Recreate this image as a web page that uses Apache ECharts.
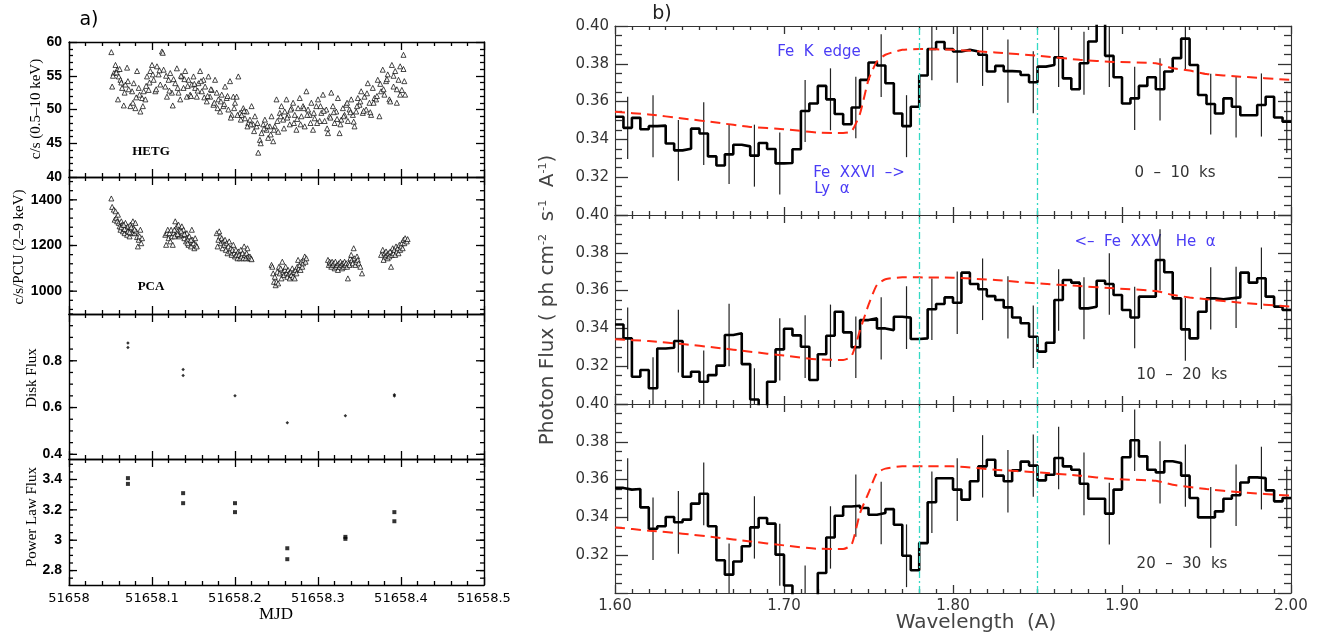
<!DOCTYPE html>
<html><head><meta charset="utf-8">
<script src="https://cdn.jsdelivr.net/npm/echarts@6/dist/echarts.min.js"></script>
<style>html,body{margin:0;padding:0;background:#fff}#c{width:1329px;height:635px}</style>
</head><body><div id="c"></div>
<script>
// ---------- data : panel a) (time in days after MJD0) ----------
const MJD0 = 51658;
const hetg = [[.051,58.5],[.052,53.4],[.054,55.4],[.056,56.6],[.058,55.9],[.059,51.5],[.060,54.9],[.062,54.4],[.064,53.2],[.066,50.6],[.068,53.7],[.070,56.2],[.071,54.2],[.074,50.5],[.076,52.7],[.078,53.9],[.080,50.2],[.082,55.7],[.084,53.2],[.086,49.7],[.088,51.7],[.090,52.7],[.092,51.5],[.094,54.9],[.096,52.9],[.098,55.7],[.100,56.6],[.102,54.4],[.104,52.7],[.106,56.4],[.108,55.2],[.110,53.7],[.112,58.6],[.114,55.9],[.116,53.4],[.118,51.9],[.120,54.4],[.122,55.4],[.124,52.5],[.125,50.6],[.128,53.9],[.130,56.1],[.132,52.5],[.134,51.5],[.136,54.9],[.138,53.2],[.140,55.7],[.142,51.9],[.144,54.4],[.146,52.2],[.148,53.7],[.150,54.9],[.152,53.2],[.154,51.9],[.156,53.9],[.158,55.7],[.160,52.7],[.162,54.4],[.164,53.4],[.166,51.2],[.168,54.9],[.170,51.9],[.172,52.9],[.174,50.7],[.176,54.4],[.178,52.5],[.180,51.5],[.182,49.7],[.184,52.2],[.186,50.5],[.188,53.4],[.190,51.7],[.192,50.0],[.194,54.2],[.196,49.2],[.198,51.9],[.200,51.0],[.202,51.9],[.204,54.9],[.206,49.5],[.208,49.2],[.210,50.2],[.212,48.7],[.214,49.7],[.216,48.0],[.218,48.5],[.220,50.5],[.222,47.8],[.224,49.0],[.226,47.5],[.228,43.6],[.230,45.5],[.232,46.5],[.234,47.8],[.236,48.5],[.238,47.0],[.240,45.8],[.242,47.5],[.244,49.0],[.246,45.3],[.248,47.5],[.250,51.5],[.252,46.7],[.254,49.5],[.256,50.5],[.258,48.5],[.260,49.7],[.262,51.5],[.264,49.2],[.266,47.8],[.268,50.2],[.270,51.0],[.272,49.2],[.274,47.0],[.276,50.2],[.278,51.7],[.280,49.0],[.282,50.5],[.284,47.5],[.286,52.7],[.288,50.0],[.290,49.2],[.292,51.0],[.294,47.0],[.296,48.7],[.298,50.5],[.300,51.5],[.302,48.3],[.304,49.5],[.306,52.2],[.308,48.3],[.310,50.0],[.312,46.5],[.314,49.0],[.316,52.5],[.318,50.5],[.320,48.0],[.322,49.7],[.324,51.7],[.326,46.5],[.328,48.5],[.330,50.2],[.332,49.2],[.334,50.7],[.336,48.3],[.338,50.0],[.340,51.5],[.342,49.2],[.344,47.5],[.346,49.7],[.348,51.7],[.350,50.7],[.352,52.7],[.354,49.5],[.356,51.9],[.358,50.0],[.360,53.9],[.362,51.0],[.364,49.2],[.366,53.2],[.368,51.7],[.370,51.5],[.372,54.4],[.374,49.0],[.376,52.7],[.378,55.9],[.380,52.2],[.382,54.2],[.384,55.2],[.386,51.5],[.389,56.6],[.391,53.4],[.393,55.7],[.395,51.0],[.397,54.4],[.399,56.4],[.401,52.9],[.403,58.1],[.404,54.2],[.405,52.2],
[.053,55.0],[.057,55.5],[.061,56.0],[.063,54.0],[.067,52.5],[.072,53.0],[.077,51.0],[.081,51.8],[.085,52.2],[.089,50.5],[.093,53.5],[.097,54.0],[.101,55.2],[.105,53.0],[.109,55.8],[.113,58.4],[.117,55.0],[.121,52.8],[.126,54.5],[.131,53.2],[.135,55.0],[.139,54.5],[.143,53.5],[.147,52.0],[.151,53.8],[.155,52.8],[.159,54.2],[.163,51.8],[.167,52.0],[.171,53.0],[.175,51.0],[.179,50.2],[.183,51.2],[.187,50.8],[.191,52.0],[.195,48.8],[.199,50.2],[.203,49.2],[.207,48.5],[.211,49.8],[.215,47.5],[.219,47.8],[.223,46.8],[.227,48.0],[.231,45.0],[.235,47.2],[.239,47.6],[.243,46.3],[.247,47.0],[.251,48.3],[.255,49.0],[.259,47.2],[.263,48.8],[.267,50.0],[.271,48.0],[.275,48.6],[.279,47.8],[.283,50.2],[.287,49.2],[.291,48.0],[.295,49.5],[.299,48.0],[.303,50.5],[.307,49.8],[.311,47.2],[.315,48.8],[.319,49.6],[.323,48.6],[.327,47.8],[.331,49.0],[.335,51.0],[.339,49.6],[.343,48.2],[.347,50.5],[.351,51.2],[.355,49.8],[.359,52.4],[.363,49.6],[.367,51.0],[.371,52.0],[.375,53.8],[.379,53.0],[.383,54.5],[.387,51.2],[.391,55.0],[.395,53.0],[.399,52.2],[.403,56.0]];

const pca = [[.051,1406],[.052,1369],[.054,1357],[.055,1313],[.056,1350],[.057,1321],[.058,1306],[.059,1335],[.060,1299],[.061,1284],[.062,1269],[.063,1306],[.064,1291],[.065,1262],[.066,1276],[.067,1254],[.068,1299],[.069,1269],[.070,1247],[.071,1284],[.072,1262],[.073,1240],[.074,1291],[.075,1269],[.076,1254],[.077,1306],[.078,1276],[.079,1254],[.080,1299],[.081,1262],[.082,1237],[.083,1196],[.084,1225],[.085,1240],[.086,1269],[.087,1210],[.088,1232],[.063,1280],[.067,1272],[.071,1262],[.075,1280],[.079,1270],[.066,1290],[.073,1258],
[.116,1247],[.117,1203],[.118,1254],[.119,1269],[.120,1232],[.121,1254],[.122,1218],[.123,1269],[.124,1240],[.125,1203],[.126,1254],[.127,1269],[.128,1306],[.129,1247],[.130,1284],[.131,1262],[.132,1291],[.133,1240],[.134,1269],[.135,1247],[.136,1284],[.137,1254],[.138,1269],[.139,1232],[.140,1247],[.141,1218],[.142,1254],[.143,1225],[.144,1203],[.145,1240],[.146,1218],[.147,1196],[.148,1269],[.149,1225],[.150,1210],[.151,1188],[.152,1232],[.153,1203],[.154,1196],[.127,1240],[.131,1250],[.135,1262],[.139,1250],[.143,1210],[.147,1225],
[.178,1254],[.179,1196],[.180,1225],[.181,1262],[.182,1240],[.183,1210],[.184,1232],[.185,1188],[.186,1218],[.187,1203],[.188,1225],[.189,1181],[.190,1210],[.191,1166],[.192,1196],[.193,1218],[.194,1174],[.195,1188],[.196,1159],[.197,1181],[.198,1203],[.199,1166],[.200,1152],[.201,1181],[.202,1159],[.203,1144],[.204,1174],[.205,1159],[.206,1144],[.207,1181],[.208,1152],[.209,1166],[.210,1144],[.211,1196],[.212,1159],[.213,1144],[.214,1166],[.215,1188],[.216,1152],[.217,1144],[.218,1152],[.219,1144],[.220,1140],
[.244,1115],[.245,1107],[.246,1078],[.247,1041],[.248,1063],[.249,1026],[.250,1041],[.251,1085],[.252,1034],[.253,1107],[.254,1078],[.255,1100],[.256,1056],[.257,1129],[.258,1085],[.259,1071],[.260,1093],[.261,1107],[.262,1078],[.263,1063],[.264,1093],[.265,1078],[.266,1056],[.267,1085],[.268,1071],[.269,1100],[.270,1063],[.271,1085],[.272,1056],[.273,1093],[.274,1078],[.275,1107],[.276,1137],[.277,1100],[.278,1115],[.279,1093],[.280,1129],[.281,1107],[.282,1122],[.283,1137],[.284,1152],[.285,1129],[.286,1144],
[.312,1137],[.313,1115],[.314,1129],[.315,1122],[.316,1107],[.317,1129],[.318,1115],[.319,1122],[.320,1100],[.321,1129],[.322,1107],[.323,1115],[.324,1093],[.325,1122],[.326,1107],[.327,1129],[.328,1115],[.329,1100],[.330,1122],[.331,1107],[.332,1129],[.333,1115],[.334,1122],[.335,1107],[.336,1056],[.337,1122],[.338,1115],[.339,1144],[.340,1159],[.341,1137],[.342,1122],[.343,1188],[.344,1144],[.345,1115],[.346,1129],[.347,1152],[.348,1137],[.349,1122],[.351,1107],[.353,1078],
[.376,1159],[.378,1181],[.379,1137],[.380,1166],[.381,1152],[.382,1174],[.383,1159],[.384,1144],[.385,1166],[.386,1152],[.387,1174],[.388,1107],[.389,1159],[.390,1188],[.391,1166],[.392,1181],[.393,1159],[.394,1196],[.395,1174],[.396,1188],[.397,1166],[.398,1203],[.399,1181],[.400,1196],[.401,1210],[.402,1188],[.403,1225],[.404,1210],[.405,1232],[.407,1218],[.408,1228]];

const diskFlux = [[.071,0.876],[.071,0.857],[.1375,0.763],[.1375,0.737],[.200,0.650],[.263,0.535],[.333,0.565],[.392,0.655],[.392,0.649]];
const powerFlux = [[.071,3.409],[.071,3.371],[.1375,3.310],[.1375,3.244],[.200,3.244],[.200,3.185],[.263,2.947],[.263,2.875],[.333,3.022],[.333,3.009],[.392,3.185],[.392,3.125]];

// ---------- data : panel b) spectra, 80 bins of 0.005 A from 1.60 A ----------
const binStart = 1.60, binWidth = 0.005;
const spec0 = [0.352,0.3461,0.3514,0.3454,0.347,0.3473,0.3378,0.3342,0.3351,0.3457,
 0.3431,0.331,0.3262,0.3321,0.3372,0.3363,0.3314,0.3381,0.3349,0.3273,
 0.3275,0.3348,0.355,0.359,0.3683,0.3612,0.3534,0.348,0.3569,0.3715,
 0.3807,0.3791,0.3697,0.3537,0.347,0.3573,0.3738,0.3878,0.3915,0.3878,
 0.3865,0.3874,0.3865,0.3848,0.3759,0.3789,0.3761,0.3759,0.3741,0.3702,
 0.3785,0.3794,0.3835,0.3723,0.3665,0.3803,0.3918,0.41,0.3842,0.3729,
 0.359,0.3617,0.3683,0.3729,0.3665,0.3759,0.383,0.3933,0.3794,0.3635,
 0.3587,0.3537,0.3617,0.3573,0.3528,0.3528,0.3582,0.3626,0.3516,0.3493];
const spec1 = [0.3421,0.3347,0.3144,0.318,0.3083,0.3294,0.3298,0.3333,0.3144,0.3171,
 0.3118,0.3153,0.3203,0.3365,0.3374,0.3211,0.3024,0.296,0.3118,0.3289,
 0.3398,0.3363,0.3303,0.3127,0.3263,0.3361,0.3488,0.3379,0.33,0.3444,
 0.3453,0.34,0.3391,0.3462,0.3457,0.3344,0.3347,0.3501,0.3529,0.3564,
 0.3536,0.3695,0.3635,0.3607,0.3571,0.355,0.3511,0.3458,0.3427,0.3356,
 0.3277,0.3324,0.355,0.3656,0.3642,0.3506,0.3515,0.3652,0.3635,0.3577,
 0.3497,0.3458,0.3568,0.3568,0.3762,0.3697,0.3559,0.3395,0.3347,0.3488,
 0.3559,0.3554,0.3559,0.3564,0.3695,0.3642,0.3665,0.3568,0.3515,0.3497];
const spec2 = [0.3556,0.3547,0.355,0.3453,0.334,0.3353,0.3402,0.3374,0.3388,0.3473,
 0.3525,0.3353,0.3173,0.3097,0.3167,0.3247,0.3347,0.3397,0.3367,0.3203,
 0.304,0.297,0.298,0.296,0.3106,0.3294,0.3409,0.3458,0.3462,0.345,
 0.3414,0.3423,0.3444,0.3361,0.3197,0.312,0.3264,0.348,0.3607,0.3607,
 0.3547,0.3494,0.3591,0.367,0.3705,0.3621,0.3591,0.3649,0.3695,0.3674,
 0.3596,0.3626,0.3714,0.367,0.3652,0.3578,0.3499,0.3499,0.342,0.3547,
 0.3718,0.3808,0.3723,0.3652,0.3638,0.3697,0.3688,0.3621,0.3503,0.34,
 0.34,0.3432,0.3499,0.3517,0.3585,0.3612,0.3608,0.3543,0.3485,0.3503];
// error bars drawn on every third bin (bins 1,4,7,...,79): half-lengths
const errBins = [1,4,7,10,13,16,19,22,25,28,31,34,37,40,43,46,49,52,55,58,61,64,67,70,73,76,79];
const err0 = [.0165,.0164,.0161,.0166,.0157,.0164,.0164,.0164,.0164,.0163,.0166,.0164,.0165,.0165,.0165,.0167,.0164,.0158,.0167,.0165,.0167,.0165,.0165,.0161,.0163,.0167,.0165];
const err1 = [.0163,.0165,.0166,.0165,.0165,.0165,.0165,.0166,.0165,.0163,.0165,.0166,.0163,.0165,.0163,.0165,.0165,.0163,.0164,.0163,.0163,.0162,.0166,.0165,.0162,.0163,.0164];
const err2 = [.0166,.0165,.0166,.0166,.0165,.0165,.0164,.0165,.0165,.0165,.0165,.0166,.0163,.0166,.0165,.0165,.0165,.0165,.0166,.0163,.0163,.0165,.0165,.0161,.0163,.0166,.0166];
// model curves
const modelX = [1.60,1.62,1.64,1.66,1.68,1.70,1.72,1.735,1.74,1.745,1.75,1.755,1.76,1.77,1.78,1.80,1.825,1.85,1.875,1.895,1.92,1.93,1.94,1.95,1.97,2.00];
const model0 = [0.3546,0.3532,0.3511,0.3489,0.3466,0.3454,0.3436,0.3434,0.3443,0.3537,0.3715,0.3812,0.3848,0.3874,0.3878,0.3874,0.386,0.3843,0.3821,0.381,0.3803,0.3776,0.3764,0.3746,0.3732,0.3715];
const model1 = [0.3342,0.3333,0.3317,0.3298,0.3277,0.3256,0.3236,0.3233,0.3254,0.3391,0.3524,0.363,0.366,0.367,0.367,0.3668,0.3656,0.3638,0.3624,0.3612,0.3598,0.3577,0.3564,0.3554,0.3536,0.3515];
const model2 = [0.3347,0.333,0.3314,0.3294,0.3273,0.3252,0.3234,0.3233,0.3256,0.3423,0.3529,0.3635,0.3658,0.367,0.367,0.367,0.3652,0.3638,0.3621,0.3603,0.3594,0.3573,0.3561,0.355,0.3533,0.3515];
const lineWaves = [1.78, 1.85];

// ---------- tick labels ----------
const mjdTicks = [0, 0.1, 0.2, 0.3, 0.4, 0.5];
const hetgTicks = [40, 45, 50, 55, 60];
const pcaTicks = [1000, 1200, 1400];
const diskTicks = [0.4, 0.6, 0.8];
const powerTicks = [2.8, 3, 3.2, 3.4];
const waveTicks = [1.6, 1.7, 1.8, 1.9, 2.0];
const fluxTicks = [0.32, 0.34, 0.36, 0.38, 0.40];

function steps(a, b, st) { const n = Math.round((b - a) / st), o = []; for (let i = 0; i <= n; i++) o.push(+(a + i * st).toFixed(6)); return o; }
const grids = [], xAxes = [], yAxes = [], series = [], ax = [];
const L = { color: '#000', lw: 1.4, tw: 1.3, major: 8, minor: 4, lab: '#000', font: 'Liberation Sans', fs: 14, fw: 'bold', margin: 7 };
const R = { color: '#333', lw: 1.1, tw: 1.3, major: 13, minor: 7, lab: '#333', font: 'DejaVu Sans', fs: 15, margin: 6 };
const RX = Object.assign({}, R, { major: 8, minor: 4 });

function addAxes(list, g, dim, min, max, o) {
  const sides = dim === 'x' ? ['bottom', 'top'] : ['left', 'right'];
  let main;
  sides.forEach((pos, si) => {
    const showLab = si === 0 && o.labels;
    const a = { type: 'value', gridIndex: g, min: min, max: max, position: pos,
      splitLine: { show: false }, axisPointer: { show: false },
      axisLine: { show: true, onZero: false, lineStyle: { color: o.color, width: o.lw } },
      axisTick: o.interval ? { show: true, inside: true, length: o.major, lineStyle: { color: o.color, width: o.tw } } : { show: false },
      minorTick: o.interval ? { show: true, splitNumber: o.split, length: o.minor, lineStyle: { color: o.color, width: o.tw } } : { show: false },
      axisLabel: showLab ? Object.assign({ show: true, formatter: o.fmt, color: o.lab, fontFamily: o.font, fontSize: o.fs, fontWeight: o.fw || 'normal', margin: o.margin, showMinLabel: true, showMaxLabel: true },
        o.interval ? {} : { customValues: o.labels }) : { show: false } };
    if (o.interval) a.interval = o.interval;
    list.push(a);
    if (si === 0) main = list.length - 1;
  });
  return main;
}

const leftBoxes = [[42, 135], [177, 137], [314, 145], [459, 126]];
const rightBoxes = [[26, 189], [215, 189], [404, 189]];
leftBoxes.forEach(b => grids.push({ left: 69, width: 415, top: b[0], height: b[1] }));
rightBoxes.forEach(b => grids.push({ left: 615, width: 676, top: b[0], height: b[1] }));

// y ticks for panels whose major ticks do not start at the axis minimum
function yTickGroup(g, majors, minors, o, xMin, xMax, yMid) {
  series.push({ type: 'custom', xAxisIndex: ax[g][0], yAxisIndex: ax[g][1], silent: true, animation: false,
    data: [[(xMin + xMax) / 2, yMid]], encode: { x: 0, y: 1 },
    renderItem: function (p, api) {
      const ch = [];
      [[majors, o.major], [minors, o.minor]].forEach(set => set[0].forEach(v => {
        const a = api.coord([xMin, v]), b = api.coord([xMax, v]);
        ch.push({ type: 'line', shape: { x1: a[0], y1: a[1], x2: a[0] + set[1], y2: a[1] }, style: { stroke: o.color, lineWidth: o.tw } });
        ch.push({ type: 'line', shape: { x1: b[0], y1: b[1], x2: b[0] - set[1], y2: b[1] }, style: { stroke: o.color, lineWidth: o.tw } });
      }));
      return { type: 'group', children: ch };
    } });
}

const mjdFmt = v => v === 0 ? String(MJD0) : (MJD0 + v).toFixed(1);
const leftY = [
  { min: 40, max: 60, majors: hetgTicks, interval: 5, split: 5 },
  { min: 900, max: 1500, majors: pcaTicks, minors: steps(920, 1480, 40) },
  { min: 0.38, max: 1.0, majors: diskTicks, minors: steps(0.4, 1.0, 0.05) },
  { min: 2.705, max: 3.535, majors: powerTicks, minors: steps(2.75, 3.5, 0.05) }
];
leftY.forEach((d, g) => {
  const xi = addAxes(xAxes, g, 'x', 0, 0.5, Object.assign({}, L, { interval: 0.1, split: 5, labels: g === 3 ? mjdTicks : null, fmt: mjdFmt, fw: 'normal', font: 'DejaVu Sans', fs: 13 }));
  const yi = addAxes(yAxes, g, 'y', d.min, d.max, Object.assign({}, L, { interval: d.interval, split: d.split, labels: d.majors, fmt: v => String(v) }));
  ax.push([xi, yi]);
});
[0, 1, 2].forEach(k => {
  const xi = addAxes(xAxes, 4 + k, 'x', 1.6, 2.0, Object.assign({}, RX, { interval: 0.1, split: 10, labels: k === 2 ? waveTicks : null, fmt: v => v.toFixed(2) }));
  const yi = addAxes(yAxes, 4 + k, 'y', 0.30, 0.40, Object.assign({}, R, { interval: 0.02, split: 4, labels: fluxTicks, fmt: v => v < 0.31 ? '' : v.toFixed(2) }));
  ax.push([xi, yi]);
});
[1, 2, 3].forEach(g => yTickGroup(g, leftY[g].majors, leftY[g].minors, L, 0, 0.5, (leftY[g].min + leftY[g].max) / 2));

function scatter(g, data, sym, size, style) {
  series.push({ type: 'scatter', xAxisIndex: ax[g][0], yAxisIndex: ax[g][1], symbol: sym, symbolSize: size,
    data: data.map(p => [p[0], p[1]]), itemStyle: style, silent: true, animation: false });
}
scatter(0, hetg, 'triangle', 5, { color: '#fff', borderColor: '#000', borderWidth: 0.9 });
scatter(1, pca, 'triangle', 5, { color: '#fff', borderColor: '#000', borderWidth: 0.9 });
scatter(2, diskFlux, 'diamond', 3.5, { color: '#000' });
scatter(3, powerFlux, 'rect', 4, { color: '#000' });

const specs = [spec0, spec1, spec2], errs = [err0, err1, err2], models = [model0, model1, model2];
const yLo = 0.30, yHi = 0.40;
specs.forEach((sp, k) => {
  const g = 4 + k;
  const edges = sp.map((v, i) => [+(binStart + i * binWidth).toFixed(4), v]);
  edges.push([+(binStart + sp.length * binWidth).toFixed(4), sp[sp.length - 1]]);
  series.push({ type: 'custom', xAxisIndex: ax[g][0], yAxisIndex: ax[g][1], silent: true, animation: false,
    data: errBins.map((b, j) => [+(binStart + (b + 0.5) * binWidth).toFixed(4), sp[b] - errs[k][j], sp[b] + errs[k][j]]),
    encode: { x: 0, y: [1, 2] },
    renderItem: (params, api) => {
      const x = api.value(0), lo = Math.max(api.value(1), yLo), hi = Math.min(api.value(2), yHi);
      const p1 = api.coord([x, lo]), p2 = api.coord([x, hi]);
      return { type: 'line', shape: { x1: p1[0], y1: p1[1], x2: p2[0], y2: p2[1] }, style: { stroke: '#222', lineWidth: 1.2 } };
    } });
  series.push({ type: 'line', xAxisIndex: ax[g][0], yAxisIndex: ax[g][1], step: 'end', data: edges, symbol: 'none', clip: true,
    silent: true, animation: false, lineStyle: { color: '#000', width: 2.6 },
    markLine: { symbol: 'none', silent: true, animation: false, label: { show: false },
      lineStyle: { color: '#33d9c4', width: 1.3, type: [7, 3, 2, 3] }, data: lineWaves.map(w => ({ xAxis: w })) } });
  series.push({ type: 'line', xAxisIndex: ax[g][0], yAxisIndex: ax[g][1], data: modelX.map((x, i) => [x, models[k][i]]),
    symbol: 'none', smooth: 0.2, clip: true, silent: true, animation: false, lineStyle: { color: '#ff2a14', width: 2, type: [10, 6] } });
});

const blue = '#4a3cf5';
function txt(t, x, y, font, fill, rot) {
  return { type: 'text', x: x, y: y, rotation: rot || 0, silent: true,
    style: { text: t, font: font, fill: fill, textAlign: 'center', textVerticalAlign: 'middle', align: 'center', verticalAlign: 'middle' } };
}
const graphics = [
  txt('a)', 89, 20, '19px "DejaVu Sans"', '#000'),
  txt('b)', 662, 14, '19px "DejaVu Sans"', '#222'),
  txt('HETG', 151, 152, 'bold 13px "Liberation Serif"', '#000'),
  txt('PCA', 151, 287, 'bold 13px "Liberation Serif"', '#000'),
  txt('MJD', 276, 615, '17px "Liberation Serif"', '#000'),
  txt('c/s (0.5–10 keV)', 36, 109, '15px "Liberation Serif"', '#000', Math.PI / 2),
  txt('c/s/PCU (2–9 keV)', 19, 247, '15px "Liberation Serif"', '#000', Math.PI / 2),
  txt('Disk Flux', 32, 378, '15px "Liberation Serif"', '#000', Math.PI / 2),
  txt('Power Law Flux', 32, 517, '15px "Liberation Serif"', '#000', Math.PI / 2),
  txt('Wavelength  (A)', 976, 623, '20px "DejaVu Sans"', '#444'),
  txt('Fe  K  edge', 819, 52, '15px "DejaVu Sans"', blue),
  txt('Fe  XXVI  –>', 859, 173, '15px "DejaVu Sans"', blue),
  txt('Ly  α', 832, 189, '15px "DejaVu Sans"', blue),
  txt('<–  Fe  XXV   He  α', 1145, 242, '15px "DejaVu Sans"', blue),
  txt('0  –  10  ks', 1175, 173, '15px "DejaVu Sans"', '#333'),
  txt('10  –  20  ks', 1182, 375, '15px "DejaVu Sans"', '#333'),
  txt('20  –  30  ks', 1182, 564, '15px "DejaVu Sans"', '#333'),
  { type: 'text', x: 548, y: 300, rotation: Math.PI / 2, silent: true,
    style: { text: 'Photon Flux ( ph cm{s|-2}  s{s|-1}  A{s|-1})', font: '20px "DejaVu Sans"', fill: '#444',
      textAlign: 'center', textVerticalAlign: 'middle', align: 'center', verticalAlign: 'middle',
      rich: { s: { fontSize: 11, fontFamily: 'DejaVu Sans', fill: '#444', color: '#444', verticalAlign: 'top', padding: [0, 0, 10, 0] } } } }
];

const chart = echarts.init(document.getElementById('c'), null, { renderer: 'canvas' });
chart.setOption({ animation: false, backgroundColor: '#fff', grid: grids, xAxis: xAxes, yAxis: yAxes, series: series, graphic: graphics });
</script></body></html>
